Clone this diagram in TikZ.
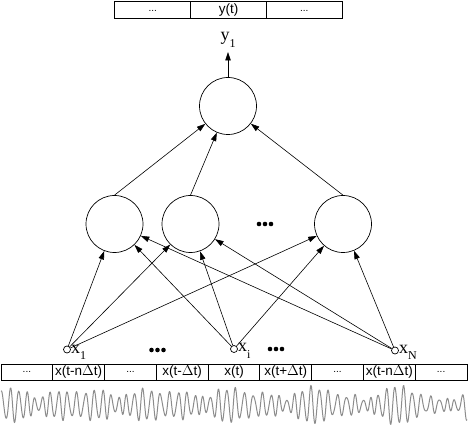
\documentclass[tikz,border=0pt]{standalone}
\usepackage{fontspec}
\setmainfont{Liberation Serif}
\newfontfamily\arialf{Liberation Sans}
\usetikzlibrary{arrows.meta}
\newcommand\sublab[2]{#1\raisebox{-0.36em}{\fontsize{12}{12}\selectfont #2}}
\newcommand\celldots{{\fontsize{10}{10}\selectfont ...}}
\tikzset{
  neuron/.style={circle, draw, line width=0.7pt, minimum size=57pt, inner sep=0pt},
  inp/.style={circle, draw, line width=0.7pt, minimum size=7pt, inner sep=0pt, fill=white},
  conn/.style={line width=0.6pt, -{Triangle[length=8.5pt,width=5.5pt]}},
  cell/.style={draw, line width=1pt, minimum height=16pt, inner sep=0pt, font=\arialf\fontsize{13.5}{14}\selectfont},
  topcell/.style={cell, minimum width=75.7pt, minimum height=17pt},
  botcell/.style={cell, minimum width=51.78pt},
  lab/.style={inner sep=0pt, font=\fontsize{18}{18}\selectfont},
  bigdot/.style={fill=black}
}
\begin{document}
\begin{tikzpicture}[x=1pt, y=-1pt]
\useasboundingbox (0,0) rectangle (468,430);
% top row
\node[topcell] (t1) at (152.8,10.5) {\celldots};
\node[topcell] (t2) at (228.5,10.5) {y(t)};
\node[topcell] (t3) at (304.2,10.5) {\celldots};
% neurons
\node[neuron] (o) at (228,106) {};
\node[neuron] (h1) at (114.5,224) {};
\node[neuron] (h2) at (190.5,224) {};
\node[neuron] (h3) at (343,224) {};
\node[inp] (x1) at (67,349.5) {};
\node[inp] (xi) at (234,349) {};
\node[inp] (xn) at (395,350.5) {};
% labels
\node[lab] (ylab) at (228,40) {\sublab{y}{1}};
\coordinate (ytip) at (228,52);
\node[lab, anchor=west] (l1) at ([yshift=-3pt]x1.east) {\sublab{x}{1}};
\node[lab, anchor=west] (li) at ([yshift=-2pt]xi.east) {\sublab{x}{i}};
\node[lab, anchor=west] (ln) at ([yshift=-2pt]xn.east) {\sublab{x}{N}};
% dots
\foreach \cx/\cy in {265/224, 157.5/350, 276/349}{
  \foreach \dx in {-6,0,6}{
    \fill[bigdot] (\cx+\dx,\cy) circle (2.3pt);
  }
}
% connections
\draw[conn] (o.north) -- (ytip);
\foreach \h in {h1,h2,h3}{
  \draw[conn] (\h.north) -- (o);
}
\foreach \s in {x1,xi,xn}{
  \foreach \h in {h1,h2,h3}{
    \draw[conn] (\s) -- (\h);
  }
}
% bottom row
\node[botcell] (c1) at (26.89,372) {\celldots};
\node[botcell] (c2) at (78.67,372) {x(t-n$\Delta$t)};
\node[botcell] (c3) at (130.45,372) {\celldots};
\node[botcell] (c4) at (182.23,372) {x(t-$\Delta$t)};
\node[botcell] (c5) at (234.01,372) {x(t)};
\node[botcell] (c6) at (285.79,372) {x(t+$\Delta$t)};
\node[botcell] (c7) at (337.57,372) {\celldots};
\node[botcell] (c8) at (389.35,372) {x(t-n$\Delta$t)};
\node[botcell] (c9) at (441.13,372) {\celldots};
% waveform
\draw[gray!90, line width=1pt, line join=round]
  plot[domain=-233:233, samples=900]
  (234+\x, {405 - 9.5*sin(42.9*\x) - 6.5*sin(38.5*\x+40) - 4.5*sin(47*\x+100) - 2*sin(66*\x+30)});
\end{tikzpicture}
\end{document}
